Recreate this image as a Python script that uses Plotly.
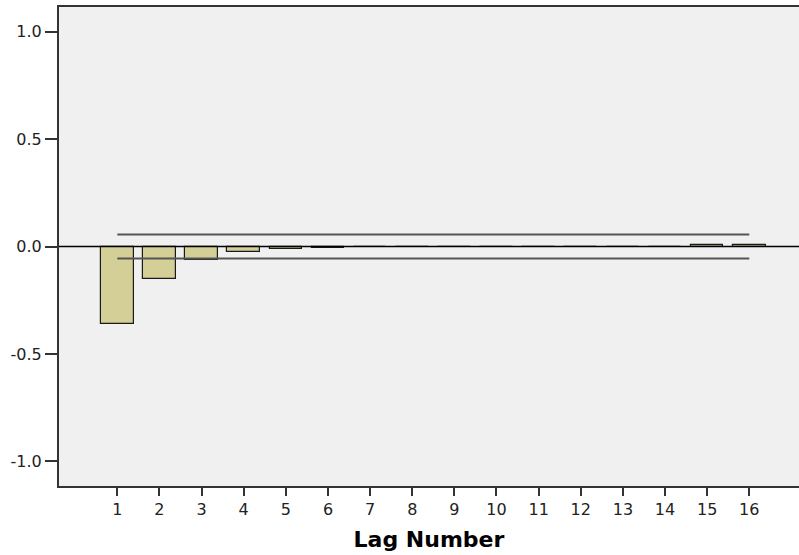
import plotly.graph_objects as go

lags = list(range(1, 17))
acf_values = [-0.36, -0.149, -0.063, -0.025, -0.012, -0.006, -0.003, -0.002,
              -0.001, -0.001, -0.001, -0.001, -0.002, -0.003, 0.005, 0.005]
upper_limit = [0.056] * 16
lower_limit = [-0.056] * 16
y_ticks = [-1.0, -0.5, 0.0, 0.5, 1.0]
y_tick_labels = ["-1.0", "-0.5", "0.0", "0.5", "1.0"]

fig = go.Figure()
fig.add_trace(go.Bar(
    x=lags, y=acf_values, width=0.775,
    marker=dict(color="#D3CF97", line=dict(color="#1a1a1a", width=1.2)),
    showlegend=False, hoverinfo="x+y",
))
fig.add_trace(go.Scatter(
    x=[lags[0], lags[-1]], y=[upper_limit[0], upper_limit[-1]], mode="lines",
    line=dict(color="#555555", width=2), showlegend=False,
))
fig.add_trace(go.Scatter(
    x=[lags[0], lags[-1]], y=[lower_limit[0], lower_limit[-1]], mode="lines",
    line=dict(color="#555555", width=2), showlegend=False,
))

fig.add_shape(type="line", xref="paper", yref="y", x0=0, x1=1, y0=0, y1=0,
              line=dict(color="#000000", width=1.5), layer="above")

fig.update_layout(
    width=799, height=555,
    margin=dict(l=59, r=0, t=7, b=69),
    paper_bgcolor="white", plot_bgcolor="#F0F0F0",
    font=dict(family="DejaVu Sans, sans-serif", size=16, color="#222222"),
    bargap=0,
)
fig.update_xaxes(
    range=[-0.384, 17.18], tickmode="array", tickvals=lags,
    ticktext=[str(l) for l in lags],
    showgrid=False, zeroline=False,
    showline=True, linecolor="#333333", linewidth=2, mirror=True,
    ticks="outside", ticklen=8, tickwidth=2, tickcolor="#333333",
    title=dict(text="<b>Lag Number</b>", font=dict(size=22, color="#000000"), standoff=13),
)
fig.update_yaxes(
    range=[-1.114, 1.114], tickmode="array", tickvals=y_ticks, ticktext=y_tick_labels,
    showgrid=False, zeroline=False,
    showline=True, linecolor="#333333", linewidth=2,
    ticks="outside", ticklen=12, tickwidth=2, tickcolor="#333333",
)

fig.write_html("out.html", config={"displayModeBar": False},
               post_script="document.body.style.margin='0';")
